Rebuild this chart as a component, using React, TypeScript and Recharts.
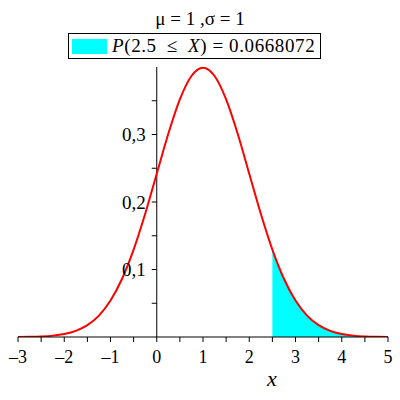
import { Area, ComposedChart, Line, ReferenceLine, XAxis, YAxis } from "recharts";

// x grid (step 0.25) and the density, mu = 1, sigma = 1
const X_VALUES = [
  -3, -2.75, -2.5, -2.25, -2, -1.75, -1.5, -1.25, -1, -0.75, -0.5, -0.25, 0,
  0.25, 0.5, 0.75, 1, 1.25, 1.5, 1.75, 2, 2.25, 2.5, 2.75, 3, 3.25, 3.5, 3.75,
  4, 4.25, 4.5, 4.75, 5,
];
const DENSITY = [
  0.000134, 0.000353, 0.000873, 0.002029, 0.004432, 0.009094, 0.017528,
  0.03174, 0.053991, 0.086277, 0.129518, 0.182649, 0.241971, 0.301137,
  0.352065, 0.386668, 0.398942, 0.386668, 0.352065, 0.301137, 0.241971,
  0.182649, 0.129518, 0.086277, 0.053991, 0.03174, 0.017528, 0.009094,
  0.004432, 0.002029, 0.000873, 0.000353, 0.000134,
];
const SHADE_FROM = 2.5;

const X_TICKS = [-3, -2.5, -2, -1.5, -1, -0.5, 0, 0.5, 1, 1.5, 2, 2.5, 3, 3.5, 4, 4.5, 5];
const Y_MAJOR = [0.1, 0.2, 0.3];
const Y_LABELS = ["0,1", "0,2", "0,3"];
const Y_MINOR = [0.05, 0.15, 0.25, 0.35];

const TITLE = "\u03bc = 1 ,\u03c3 = 1";
const PROB = "0.0668072";

const FONT = '"Liberation Serif", "Times New Roman", serif';
const Y_TICK_LEN = 0.108; // ~5px in x units

const rows = X_VALUES.map((x, i) => ({
  x,
  density: DENSITY[i],
  shade: x >= SHADE_FROM ? DENSITY[i] : null,
}));

function formatX(v: number): string {
  if (!Number.isInteger(v)) return "";
  return v < 0 ? `\u2013${-v}` : String(v);
}

export default function App() {
  return (
    <div
      style={{
        position: "absolute",
        left: 0,
        top: 0,
        width: 400,
        height: 400,
        background: "#fff",
        fontFamily: FONT,
      }}
    >
      <div
        style={{
          position: "absolute",
          left: 0,
          width: 400,
          top: 8,
          textAlign: "center",
          fontSize: 19,
          lineHeight: "22px",
        }}
      >
        {TITLE}
      </div>
      <div
        style={{
          position: "absolute",
          left: 68,
          top: 33,
          width: 251,
          height: 24,
          border: "1px solid #000",
          display: "flex",
          alignItems: "center",
          fontSize: 19,
        }}
      >
        <span
          style={{
            display: "inline-block",
            width: 35,
            height: 15,
            marginLeft: 3,
            marginRight: 5,
            background: "#00ffff",
          }}
        />
        <span style={{ whiteSpace: "pre", letterSpacing: 0.6 }}>
          <i>P</i>(2.5{"\u2002\u2264\u2002"}<i>X</i>) = {PROB}
        </span>
      </div>
      <ComposedChart
        width={400}
        height={400}
        data={rows}
        margin={{ top: 67, right: 12, bottom: 33, left: 18 }}
      >
        <XAxis
          dataKey="x"
          type="number"
          domain={[-3, 5]}
          ticks={X_TICKS}
          tickFormatter={formatX}
          interval={0}
          height={30}
          tickSize={5}
          tickMargin={8}
          stroke="#000"
          axisLine={{ stroke: "#000" }}
          tickLine={{ stroke: "#000" }}
          tick={{ fill: "#000", fontSize: 18, fontFamily: FONT }}
        />
        <YAxis hide width={0} domain={[0, 0.4]} allowDataOverflow />
        <ReferenceLine x={0} stroke="#000" strokeWidth={1} />
        {Y_MAJOR.map((v, i) => (
          <ReferenceLine
            key={`maj-${v}`}
            segment={[
              { x: -Y_TICK_LEN, y: v },
              { x: 0, y: v },
            ]}
            stroke="#000"
            label={{
              value: Y_LABELS[i],
              position: "left",
              offset: 6,
              fill: "#000",
              fontSize: 19,
              fontFamily: FONT,
            }}
          />
        ))}
        {Y_MINOR.map((v) => (
          <ReferenceLine
            key={`min-${v}`}
            segment={[
              { x: -Y_TICK_LEN, y: v },
              { x: 0, y: v },
            ]}
            stroke="#000"
          />
        ))}
        <Area
          dataKey="shade"
          type="monotone"
          fill="#00ffff"
          fillOpacity={1}
          stroke="none"
          baseValue={0}
          isAnimationActive={false}
        />
        <Line
          dataKey="density"
          type="monotone"
          stroke="#ff0000"
          strokeWidth={2}
          dot={false}
          activeDot={false}
          isAnimationActive={false}
        />
      </ComposedChart>
      <div
        style={{
          position: "absolute",
          left: 267,
          top: 367,
          fontSize: 22,
          fontStyle: "italic",
          lineHeight: "24px",
        }}
      >
        x
      </div>
    </div>
  );
}
